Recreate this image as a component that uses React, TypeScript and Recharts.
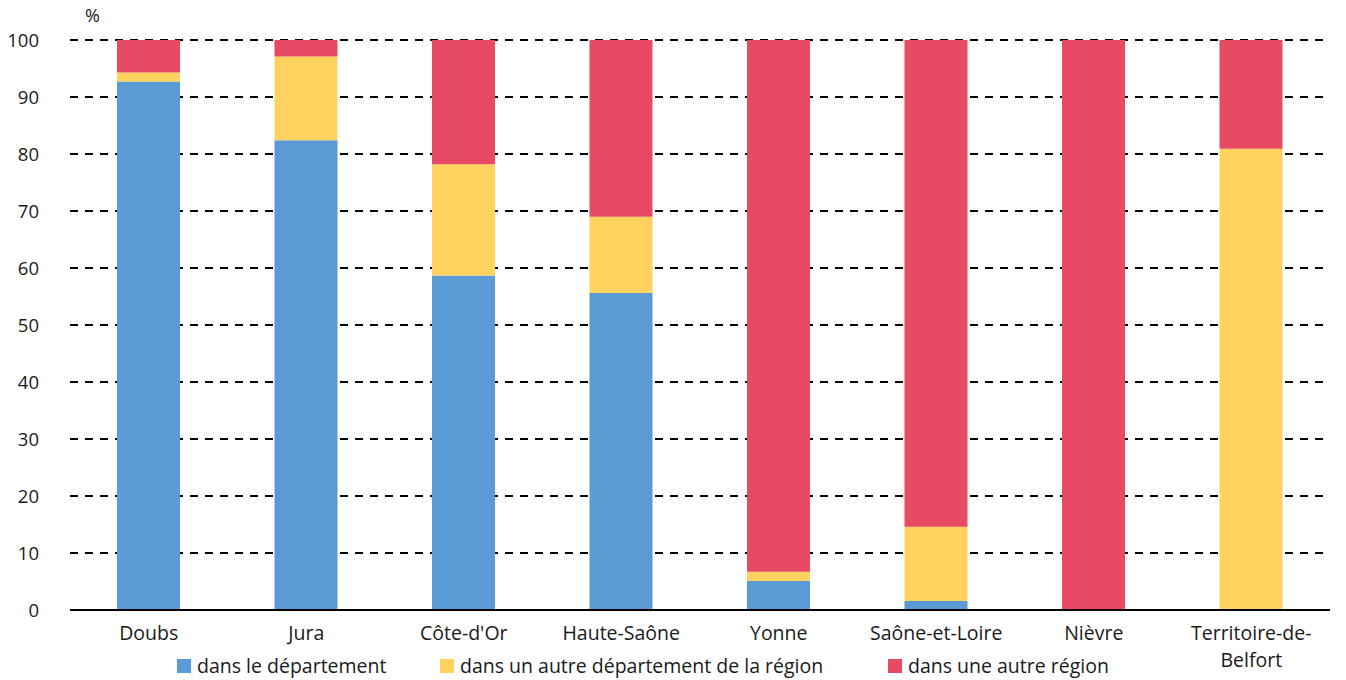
import React from 'react';
import { BarChart, Bar, XAxis, YAxis, CartesianGrid } from 'recharts';

const categories = [
  'Doubs',
  'Jura',
  "Côte-d'Or",
  'Haute-Saône',
  'Yonne',
  'Saône-et-Loire',
  'Nièvre',
  'Territoire-de-Belfort',
];

// parts in %
const dansDepartement = [92.7, 82.4, 58.7, 55.6, 5.1, 1.6, 0, 0];
const autreDepartement = [1.6, 14.7, 19.5, 13.4, 1.6, 13.0, 0, 80.9];
const autreRegion = [5.7, 2.9, 21.8, 31.0, 93.3, 85.4, 100, 19.1];

const yTicks = [0, 10, 20, 30, 40, 50, 60, 70, 80, 90, 100];

const SERIES = [
  { key: 'dep', name: 'dans le département', color: '#5B9BD5', left: 177 },
  { key: 'reg', name: 'dans un autre département de la région', color: '#FFD35E', left: 440 },
  { key: 'autre', name: 'dans une autre région', color: '#E94A63', left: 888 },
];

const FONT = '"Open Sans", sans-serif';
const TEXT = '#1a1a1a';

const chartData = categories.map((c, i) => ({
  name: c,
  dep: dansDepartement[i],
  reg: autreDepartement[i],
  autre: autreRegion[i],
}));

function XTick(props: any) {
  const { x, y, payload } = props;
  const label: string = payload.value;
  let lines = [label];
  if (label.length > 16) {
    const cut = label.lastIndexOf('-');
    lines = [label.slice(0, cut + 1), label.slice(cut + 1)];
  }
  return (
    <text x={x} y={y} textAnchor="middle" fill={TEXT} fontSize={19.5} fontFamily={FONT}>
      {lines.map((l, i) => (
        <tspan key={i} x={x} dy={i === 0 ? 22 : 27}>
          {l}
        </tspan>
      ))}
    </text>
  );
}

export default function App() {
  return (
    <div style={{ position: 'relative', width: 1346, height: 680, background: '#fff' }}>
      <style>{'body{margin:0}'}</style>
      <div style={{ position: 'absolute', left: 85, top: 3, fontFamily: FONT, fontSize: 18, color: TEXT }}>%</div>
      <BarChart
        width={1346}
        height={680}
        data={chartData}
        margin={{ top: 40, right: 16, bottom: 0, left: 0 }}
        barSize={63}
      >
        <CartesianGrid vertical={false} stroke="#000" strokeWidth={2} strokeDasharray="8 7" />
        <XAxis
          dataKey="name"
          height={70}
          tickLine={false}
          axisLine={{ stroke: '#000', strokeWidth: 2 }}
          tick={<XTick />}
          interval={0}
        />
        <YAxis
          width={70}
          domain={[0, 100]}
          ticks={yTicks}
          axisLine={false}
          tickLine={false}
          tickMargin={25}
          tick={{ fontSize: 18.5, fill: TEXT, fontFamily: FONT }}
        />
        {SERIES.map((s) => (
          <Bar key={s.key} dataKey={s.key} name={s.name} stackId="a" fill={s.color} isAnimationActive={false} />
        ))}
      </BarChart>
      {SERIES.map((s) => (
        <div
          key={s.key}
          style={{
            position: 'absolute',
            left: s.left,
            top: 652,
            display: 'flex',
            alignItems: 'center',
            gap: 6,
            fontFamily: FONT,
            fontSize: 19.5,
            color: TEXT,
            whiteSpace: 'nowrap',
          }}
        >
          <div style={{ width: 14, height: 14, background: s.color }} />
          <span>{s.name}</span>
        </div>
      ))}
    </div>
  );
}
